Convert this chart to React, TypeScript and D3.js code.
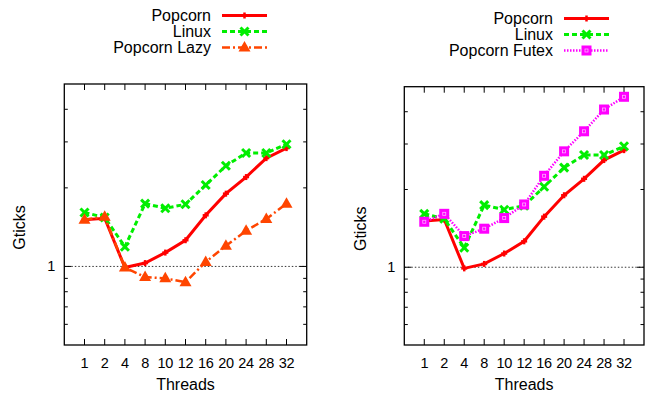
import React from "react";
import * as d3 from "d3";

// thread counts on the x axis (categorical, evenly spaced)
const threads = ["1", "2", "4", "8", "10", "12", "16", "20", "24", "28", "32"];

// Gticks per series
const popcorn = [1.51, 1.53, 0.99, 1.03, 1.13, 1.26, 1.57, 1.9, 2.2, 2.6, 2.84];
const linux = [1.61, 1.54, 1.19, 1.74, 1.67, 1.73, 2.05, 2.43, 2.72, 2.72, 2.94];
const popcornLazy = [1.51, 1.55, 0.99, 0.91, 0.9, 0.87, 1.04, 1.2, 1.37, 1.52, 1.74];
const popcornFutex = [1.5, 1.61, 1.32, 1.41, 1.55, 1.75, 2.26, 2.81, 3.36, 4.08, 4.57];

const yDomain: [number, number] = [0.5, 5];
const majorTicks = [1];
const minorTicks = [0.6, 0.7, 0.8, 0.9, 2, 3, 4];

const FONT = "'Liberation Sans', Arial, sans-serif";

type Marker = "plus" | "cross" | "triangle" | "square";

interface Series {
  name: string;
  values: number[];
  color: string;
  width: number;
  dash?: string;
  marker: Marker;
}

const seriesPopcorn: Series = { name: "Popcorn", values: popcorn, color: "#ff0000", width: 3, marker: "plus" };
const seriesLinux: Series = { name: "Linux", values: linux, color: "#00ee00", width: 3, dash: "5,3", marker: "cross" };
const seriesLazy: Series = { name: "Popcorn Lazy", values: popcornLazy, color: "#ff4500", width: 2.5, dash: "8,3,2,3", marker: "triangle" };
const seriesFutex: Series = { name: "Popcorn Futex", values: popcornFutex, color: "#ff00ff", width: 2.5, dash: "1.5,1.5", marker: "square" };

const MarkerShape: React.FC<{ type: Marker; x: number; y: number; color: string }> = ({ type, x, y, color }) => {
  if (type === "plus") {
    return (
      <g stroke={color} strokeWidth={2.5}>
        <line x1={x - 3} y1={y} x2={x + 3} y2={y} />
        <line x1={x} y1={y - 3} x2={x} y2={y + 3} />
      </g>
    );
  }
  if (type === "cross") {
    return (
      <g stroke={color} strokeWidth={3}>
        <line x1={x - 4} y1={y - 4} x2={x + 4} y2={y + 4} />
        <line x1={x - 4} y1={y + 4} x2={x + 4} y2={y - 4} />
      </g>
    );
  }
  if (type === "triangle") {
    return <path d={`M${x},${y - 6.5}L${x + 6},${y + 4}L${x - 6},${y + 4}Z`} fill={color} />;
  }
  return (
    <g>
      <rect x={x - 5} y={y - 5} width={10} height={10} fill={color} />
      <rect x={x - 1.5} y={y - 1.5} width={3} height={3} fill="none" stroke="#ffb0ff" strokeWidth={0.8} />
    </g>
  );
};

interface PanelProps {
  x0: number;
  x1: number;
  y0: number;
  y1: number;
  legendX: number;
  legendRows: number[];
  labelX: number;
  series: Series[];
}

const Panel: React.FC<PanelProps> = ({ x0, x1, y0, y1, legendX, legendRows, labelX, series }) => {
  const x = d3.scalePoint<string>().domain(threads).range([x0, x1]).padding(1);
  const y = d3.scaleLog().domain(yDomain).range([y1, y0]);
  const line = d3
    .line<number>()
    .x((_, i) => x(threads[i]) as number)
    .y((d) => y(d));

  return (
    <g fontFamily={FONT} fill="#000">
      {/* reference line at 1 */}
      <line x1={x0} x2={x1} y1={y(1)} y2={y(1)} stroke="#000" strokeWidth={0.8} strokeDasharray="1.5,2" />

      {/* x ticks, mirrored */}
      {threads.map((t) => (
        <g key={t}>
          <line x1={x(t)} x2={x(t)} y1={y1} y2={y1 - 6} stroke="#000" />
          <line x1={x(t)} x2={x(t)} y1={y0} y2={y0 + 6} stroke="#000" />
          <text x={x(t)} y={368} textAnchor="middle" fontSize={14.5} letterSpacing={-0.3}>
            {t}
          </text>
        </g>
      ))}

      {/* y ticks, mirrored */}
      {majorTicks.map((v) => (
        <g key={"M" + v}>
          <line x1={x0} x2={x0 + 7} y1={y(v)} y2={y(v)} stroke="#000" />
          <line x1={x1} x2={x1 - 7} y1={y(v)} y2={y(v)} stroke="#000" />
          <text x={x0 - 9} y={y(v) + 5} textAnchor="end" fontSize={14.5}>
            {v}
          </text>
        </g>
      ))}
      {minorTicks.map((v) => (
        <g key={"m" + v}>
          <line x1={x0} x2={x0 + 3.5} y1={y(v)} y2={y(v)} stroke="#000" />
          <line x1={x1} x2={x1 - 3.5} y1={y(v)} y2={y(v)} stroke="#000" />
        </g>
      ))}

      {/* series */}
      {series.map((s) => (
        <g key={s.name}>
          <path d={line(s.values) || ""} fill="none" stroke={s.color} strokeWidth={s.width} strokeDasharray={s.dash} />
          {s.values.map((v, i) => (
            <MarkerShape key={i} type={s.marker} x={x(threads[i]) as number} y={y(v)} color={s.color} />
          ))}
        </g>
      ))}

      {/* frame */}
      <rect x={x0} y={y0} width={x1 - x0} height={y1 - y0} fill="none" stroke="#000" strokeWidth={1.3} />

      {/* axis labels */}
      <text x={(x0 + x1) / 2} y={390} textAnchor="middle" fontSize={16}>
        Threads
      </text>
      <text
        transform={`translate(${labelX},${(y0 + y1) / 2 + 13}) rotate(-90)`}
        textAnchor="middle"
        fontSize={16}
        dy="0.35em"
      >
        Gticks
      </text>

      {/* legend */}
      {series.map((s, i) => (
        <g key={"leg" + s.name}>
          <text x={legendX} y={legendRows[i] + 5.5} textAnchor="end" fontSize={16}>
            {s.name}
          </text>
          <line
            x1={legendX + 11}
            x2={legendX + 56}
            y1={legendRows[i]}
            y2={legendRows[i]}
            stroke={s.color}
            strokeWidth={s.width}
            strokeDasharray={s.dash}
          />
          <MarkerShape type={s.marker} x={legendX + 33.5} y={legendRows[i]} color={s.color} />
        </g>
      ))}
    </g>
  );
};

export default function App() {
  return (
    <svg width={650} height={393} style={{ position: "absolute", left: 0, top: 0, background: "#fff" }}>
      <rect width={650} height={393} fill="#fff" />
      <Panel
        x0={64.3}
        x1={306.7}
        y0={84}
        y1={345}
        legendX={211}
        legendRows={[15.5, 31.5, 47.5]}
        labelX={19}
        series={[seriesPopcorn, seriesLinux, seriesLazy]}
      />
      <Panel
        x0={404.3}
        x1={644}
        y0={86.7}
        y1={345}
        legendX={553}
        legendRows={[18.5, 34.5, 50.5]}
        labelX={360}
        series={[seriesPopcorn, seriesLinux, seriesFutex]}
      />
    </svg>
  );
}
